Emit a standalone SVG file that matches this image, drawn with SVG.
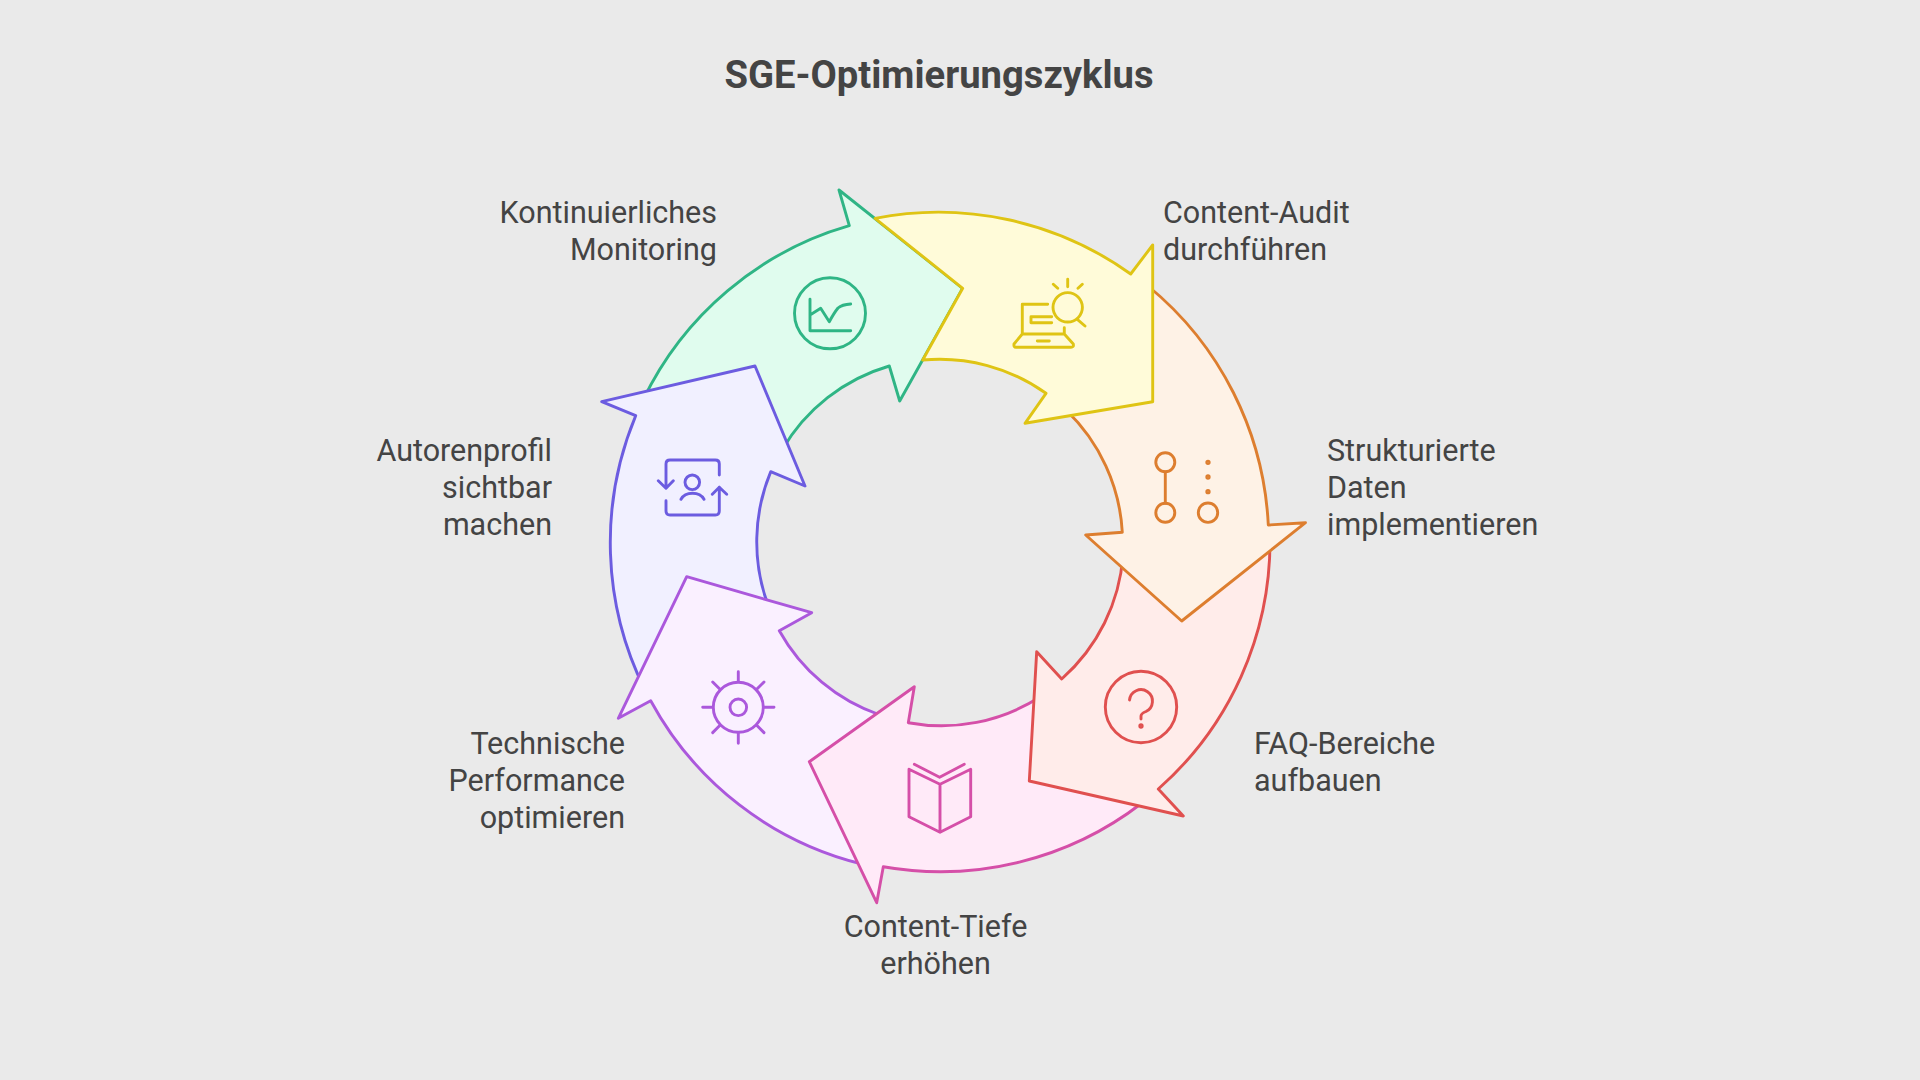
<svg xmlns="http://www.w3.org/2000/svg" width="1920" height="1080" viewBox="0 0 1920 1080">
<style>
.a{stroke-width:2.9;stroke-linejoin:round}
.i{fill:none;stroke-width:2.9;stroke-linecap:round;stroke-linejoin:round}
.t{font-family:Roboto,"Liberation Sans",sans-serif;font-size:30.5px;fill:#444}
.e{text-anchor:end}.m{text-anchor:middle}
.green{stroke:#2fb585}.yellow{stroke:#dfc414}.orange{stroke:#dd7e2f}.red{stroke:#e0504f}.pink{stroke:#d54fa8}.violet{stroke:#ab58dc}.blue{stroke:#6c5ce0}
</style>
<rect width="1920" height="1080" fill="#eaeaea"/>
<text x="939" y="87.5" class="m" font-family="Roboto,'Liberation Sans',sans-serif" font-size="38.2" font-weight="700" fill="#444">SGE-Optimierungszyklus</text>
<g id="node-monitoring">
<path class="a green" fill="#e0fcee" d="M643 400A330 330 0 0 1 849.3 225.7L839 190L962.7 288.3L899.7 401L889.3 366A183 183 0 0 0 782 450Z"/>
<g class="i green"><circle cx="830" cy="313.3" r="35.5"/><path d="M810 299.3V330.7H850.7M810 315L820.7 308.3L829.3 321.7Q834 313 838 308Q842 304.5 850.7 304"/></g>
<text class="t e" x="717" y="223">Kontinuierliches</text><text class="t e" x="717" y="259.7">Monitoring</text>
</g>
<g id="node-autorenprofil">
<path class="a blue" fill="#f1f0ff" d="M645 690A330 330 0 0 1 635.7 415.7L601.7 401.7L755 366L805 486L770.7 471.7A183 183 0 0 0 768 605Z"/>
<g class="i blue"><path d="M666 488.3V464Q666 460 670 460H715.3Q719.3 460 719.3 464V475M666 500.7V511Q666 515 670 515H715.3Q719.3 515 719.3 511V487.3M658.3 480.7L666 488.3L673.3 480.7M712.3 494.3L719.3 487.3L726.7 494.3M681 499.3A12.5 10 0 0 1 704 499.3"/><circle cx="692.3" cy="482.3" r="7.3"/></g>
<text class="t e" x="552" y="461.3">Autorenprofil</text><text class="t e" x="552" y="498">sichtbar</text><text class="t e" x="552" y="534.7">machen</text>
</g>
<g id="node-performance">
<path class="a violet" fill="#faf0ff" d="M862 864A330 330 0 0 1 650.7 700.7L618.3 718.3L686.7 576.7L811.7 612.7L779.3 630.7A183 183 0 0 0 880 715Z"/>
<g class="i violet"><circle cx="738.3" cy="707.3" r="25"/><circle cx="738.3" cy="707.3" r="8.3"/><path d="M738.3 671.7V681.7M738.3 733.3V743.3M702.7 707.3H712.7M764 707.3H774M712.7 682L720 689.3M764 682L756.7 689.3M712.7 732.6L720 725.3M764 732.6L756.7 725.3"/></g>
<text class="t e" x="625" y="754.3">Technische</text><text class="t e" x="625" y="791">Performance</text><text class="t e" x="625" y="827.7">optimieren</text>
</g>
<g id="node-tiefe">
<path class="a pink" fill="#ffeaf8" d="M1142 803A330 330 0 0 1 883.3 866.7L876.7 902.7L809.3 761.7L914.3 686.7L908.3 722.7A183 183 0 0 0 1040 697Z"/>
<g class="i pink"><path d="M909 769.3L940 784.3L970.7 769.3V816.7L940 832.3L909 816.7ZM940 784.3V832.3M914.3 764.3L939.6 777.3L964.3 764.3"/></g>
<text class="t m" x="935.5" y="937.3">Content-Tiefe</text><text class="t m" x="935.5" y="974">erhöhen</text>
</g>
<g id="node-faq">
<path class="a red" fill="#ffecea" d="M1270 540A330 330 0 0 1 1158.3 789L1183.3 816L1029.3 781L1036.7 651.7L1061.7 679A183 183 0 0 0 1123 555Z"/>
<g class="i red"><circle cx="1141" cy="707" r="35.7"/><path d="M1129.5 700A11.5 11.5 0 1 1 1146 711.5Q1141 713.5 1141 716V719"/><circle cx="1141" cy="726" r="1.2"/></g>
<text class="t" x="1254" y="754.3">FAQ-Bereiche</text><text class="t" x="1254" y="791">aufbauen</text>
</g>
<g id="node-strukturierte">
<path class="a orange" fill="#fef2e6" d="M1148 286A330 330 0 0 1 1268.3 525L1305.5 522.7L1181.7 621L1085.7 535L1122.3 532.3A183 183 0 0 0 1066 410Z"/>
<g class="i orange"><circle cx="1165.3" cy="462.3" r="9.5"/><circle cx="1165.3" cy="512.7" r="9.5"/><circle cx="1208" cy="512.7" r="9.7"/><path d="M1165.3 472V503.3"/><circle cx="1208" cy="462.3" r="1.2"/><circle cx="1208" cy="477" r="1.2"/><circle cx="1208" cy="491.7" r="1.2"/></g>
<text class="t" x="1327" y="461.3">Strukturierte</text><text class="t" x="1327" y="498">Daten</text><text class="t" x="1327" y="534.7">implementieren</text>
</g>
<g id="node-audit">
<path class="a yellow" fill="#fffbd9" d="M875 218.3A330 330 0 0 1 1130.7 274L1152.7 245V401.7L1025 423.3L1046 393.3A183 183 0 0 0 922.7 360L962.7 288.3Z"/>
<g class="i yellow"><circle cx="1067.7" cy="307.3" r="14.7"/><path d="M1077.3 319.3L1085 326M1067.7 279.3V286.7M1053.3 284.3L1057.7 288.3M1082.3 284.3L1078 288.3M1047.7 304.3H1022.3V334H1064.3V327.7M1051.7 316.7H1031V322.7H1051.7M1022.3 334L1014 344Q1013.5 347.3 1016 347.3H1071Q1074 347.3 1073.3 344L1064.3 334M1037.3 341H1049.3"/></g>
<text class="t" x="1163" y="223">Content-Audit</text><text class="t" x="1163" y="259.7">durchführen</text>
</g>
</svg>
